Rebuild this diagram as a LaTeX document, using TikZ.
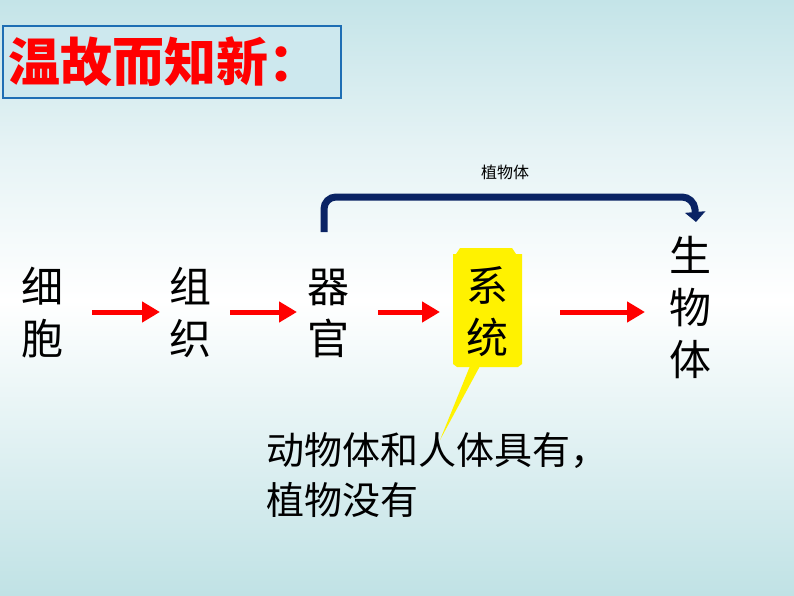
\documentclass[tikz,border=0pt]{standalone}
\usepackage{fontspec}
\newfontfamily\cjk{Noto Sans CJK SC}
\usetikzlibrary{arrows.meta}
\tikzset{big/.style={font=\cjk\fontsize{42}{52}\selectfont, align=center, inner sep=0pt},
redarr/.style={draw=red, line width=5pt, -{Triangle[length=18pt,width=20pt]}}}
\begin{document}
\begin{tikzpicture}[x=1pt,y=-1pt]
\shade[top color={rgb,255:red,196;green,228;blue,232}, bottom color=white, middle color={rgb,255:red,230;green,243;blue,245}] (0,0) rectangle (794,300);
\shade[top color=white, bottom color={rgb,255:red,192;green,226;blue,229}] (0,300) rectangle (794,596);
\useasboundingbox (0,0) rectangle (794,596);
\node[draw={rgb,255:red,30;green,110;blue,180}, line width=2pt, fill={rgb,255:red,205;green,232;blue,238}, minimum width=338pt, minimum height=72pt, anchor=north west] (title) at (2,25) {};
\node[anchor=west, text=red, font=\cjk\bfseries\fontsize{52}{60}\selectfont, inner sep=0pt] (tt) at (8,62) {温故而知新：};
\node[big] (a) at (42,313) {细\\胞};
\node[big] (b) at (190,313) {组\\织};
\node[big] (c) at (328,313) {器\\官};
\fill[yellow] (456,254) -- (460,248) -- (512,248) -- (516,254) -- (522,254) -- (522,364) -- (518,367) -- (457,367) -- (453,364) -- (453,254) -- cycle;
\coordinate (tip) at (440,440);
\fill[yellow] (470,366) -- (480,366) -- (tip) -- cycle;
\node[big] (d) at (487,312) {系\\统};
\node[big] (e) at (690,307) {生\\物\\体};
\draw[redarr] (92,312) -- (160,312);
\draw[redarr] (230,312) -- (297,312);
\draw[redarr] (378,312) -- (440,312);
\draw[redarr] (560,312) -- (645,312);
\coordinate (s) at (324,232);
\coordinate (f) at (696,222);
\draw[draw={rgb,255:red,10;green,35;blue,100}, line width=7pt, rounded corners=12pt, -{Triangle[length=10pt,width=20pt]}] (s) -- (324,197) -- (694,197) -- (f);
\node[font=\cjk\fontsize{16}{18}\selectfont] (lab) at (505,172) {植物体};
\node[anchor=north west, align=left, font=\cjk\fontsize{38}{50}\selectfont, inner sep=0pt] (txt) at (266,432) {动物体和人体具有，\\植物没有};
\end{tikzpicture}
\end{document}
